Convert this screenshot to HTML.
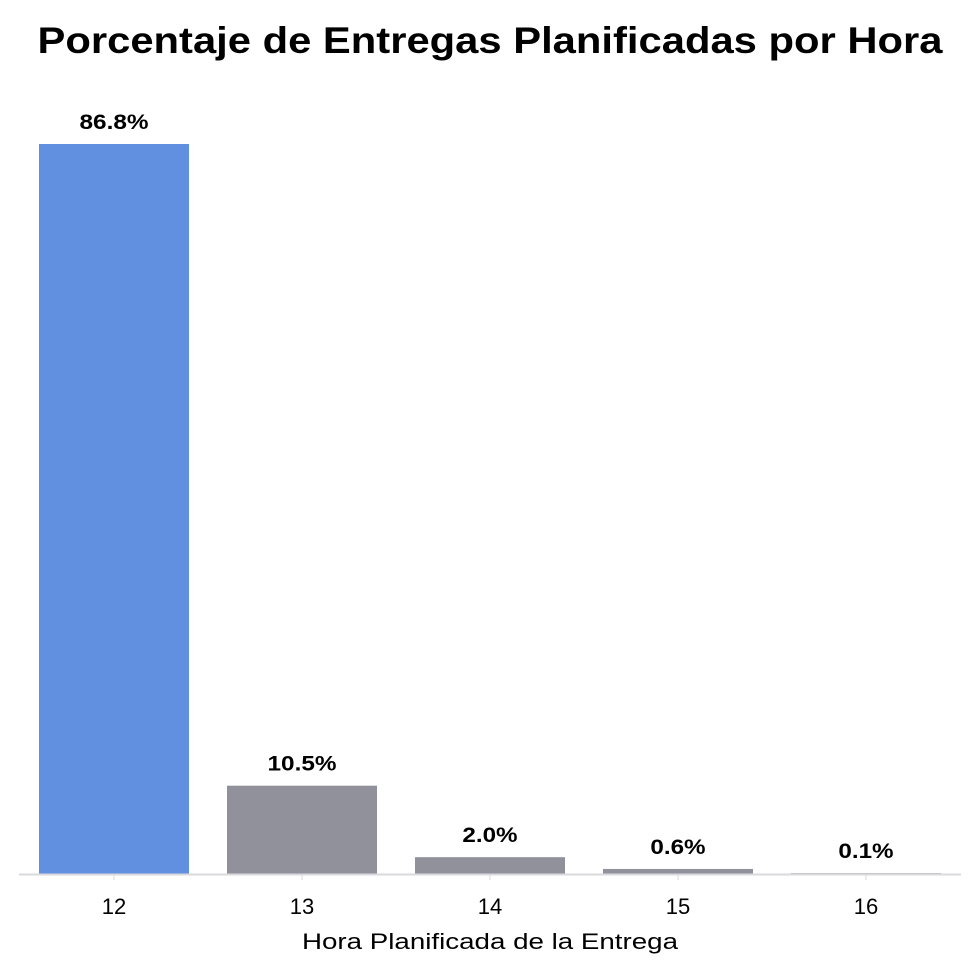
<!DOCTYPE html>
<html><head><meta charset="utf-8"><style>
html,body{margin:0;padding:0;background:#fff;}
svg{display:block;font-family:"Liberation Sans",sans-serif;}
</style></head><body>
<svg id="chart" width="980" height="976" viewBox="0 0 980 976">
<text x="490" y="53" text-anchor="middle" font-size="37" font-weight="bold" fill="#000" textLength="905" lengthAdjust="spacingAndGlyphs">Porcentaje de Entregas Planificadas por Hora</text>
<g id="bars"></g>
<line x1="19" x2="961" y1="874.5" y2="874.5" stroke="#d9d9de" stroke-width="2"/>
<g id="ticks"></g>
<text x="490" y="949" text-anchor="middle" font-size="22" fill="#000" textLength="376" lengthAdjust="spacingAndGlyphs">Hora Planificada de la Entrega</text>
</svg>
<script>
const categories = ["12","13","14","15","16"];
const values = [86.8, 10.5, 2.0, 0.6, 0.1];
const valueLabels = ["86.8%","10.5%","2.0%","0.6%","0.1%"];
const highlight = [true,false,false,false,false];

const ns = "http://www.w3.org/2000/svg";
const baseY = 874, pxPerUnit = 730/86.8;
const x0 = 114, step = 188, barW = 150;
const yScale = v => baseY - v*pxPerUnit;
const xScale = i => x0 + i*step;
const bars = document.getElementById('bars');
const ticks = document.getElementById('ticks');
categories.forEach((c,i)=>{
  const cx = xScale(i), top = yScale(values[i]);
  const r = document.createElementNS(ns,'rect');
  r.setAttribute('x', cx-barW/2);
  r.setAttribute('y', top);
  r.setAttribute('width', barW);
  r.setAttribute('height', baseY-top);
  r.setAttribute('fill', highlight[i] ? '#6190E0' : '#91919C');
  
  
  bars.appendChild(r);
  const t = document.createElementNS(ns,'text');
  t.setAttribute('x', cx);
  t.setAttribute('y', top-15);
  t.setAttribute('text-anchor','middle');
  t.setAttribute('font-size','21');
  t.setAttribute('font-weight','bold');
  t.setAttribute('textLength', valueLabels[i].length*13.8);
  t.setAttribute('lengthAdjust','spacingAndGlyphs');
  t.textContent = valueLabels[i];
  
  
  bars.appendChild(t);
  const k = document.createElementNS(ns,'line');
  k.setAttribute('x1', cx); k.setAttribute('x2', cx);
  k.setAttribute('y1', 875); k.setAttribute('y2', 880);
  k.setAttribute('stroke','#d9d9de');
  
  
  ticks.appendChild(k);
  const l = document.createElementNS(ns,'text');
  l.setAttribute('x', cx);
  l.setAttribute('y', 914);
  l.setAttribute('text-anchor','middle');
  l.setAttribute('font-size','22');
  l.textContent = c;
  
  
  ticks.appendChild(l);
});
</script>
</body></html>
